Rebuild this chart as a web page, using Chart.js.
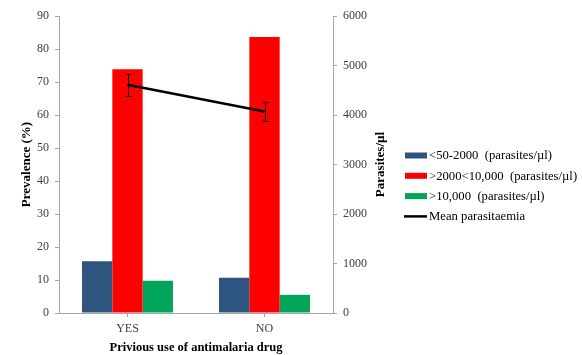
<!DOCTYPE html>
<html>
<head>
<meta charset="utf-8">
<script src="https://cdn.jsdelivr.net/npm/chart.js@4/dist/chart.umd.min.js"></script>
<style>
  html, body { margin: 0; padding: 0; background: #fff; }
  #wrap { position: relative; width: 582px; height: 355px; }
</style>
</head>
<body>
<div id="wrap"><canvas id="c"></canvas></div>
<script>
// ---- data ----
const categories = ['YES', 'NO'];
const seriesLabels = ['<50-2000  (parasites/\u00b5l)', '>2000<10,000  (parasites/\u00b5l)', '>10,000  (parasites/\u00b5l)', 'Mean parasitaemia'];
const lowDensity = [15.7, 10.7];      // prevalence %
const midDensity = [73.9, 83.6];      // prevalence %
const highDensity = [9.8, 5.5];       // prevalence %
const meanParasitaemia = [4610, 4070]; // parasites/µl
const meanError = [220, 200];          // parasites/µl
const leftTicks = { min: 0, max: 90, step: 10 };
const rightTicks = { min: 0, max: 6000, step: 1000 };
const xTitle = 'Privious use of antimalaria drug';
const yTitle = 'Prevalence (%)';
const y1Title = 'Parasites/\u00b5l';

const SERIF = "'Liberation Serif', 'Times New Roman', serif";
Chart.defaults.font.family = SERIF;
Chart.defaults.color = '#000';
const AXIS = '#a6a6a6';
const TICKC = '#404040';

const errorBars = {
  id: 'errorBars',
  afterDatasetsDraw(chart) {
    const meta = chart.getDatasetMeta(3);
    const ys = chart.scales.y1;
    const ctx = chart.ctx;
    ctx.save();
    ctx.strokeStyle = '#000';
    ctx.lineWidth = 1;
    meta.data.forEach((pt, i) => {
      const x = Math.round(pt.x) + 0.5;
      const t = ys.getPixelForValue(meanParasitaemia[i] + meanError[i]);
      const b = ys.getPixelForValue(meanParasitaemia[i] - meanError[i]);
      ctx.beginPath();
      ctx.moveTo(x, t); ctx.lineTo(x, b);
      ctx.moveTo(x - 3, Math.round(t) + 0.5); ctx.lineTo(x + 3, Math.round(t) + 0.5);
      ctx.moveTo(x - 3, Math.round(b) + 0.5); ctx.lineTo(x + 3, Math.round(b) + 0.5);
      ctx.stroke();
    });
    ctx.restore();
  }
};

const rightTitle = {
  id: 'rightTitle',
  afterDraw(chart) {
    const ctx = chart.ctx;
    const a = chart.chartArea;
    ctx.save();
    ctx.translate(a.right + 48, (a.top + a.bottom) / 2);
    ctx.rotate(-Math.PI / 2);
    ctx.font = 'bold 13px ' + SERIF;
    ctx.fillStyle = '#000';
    ctx.textAlign = 'center';
    ctx.textBaseline = 'middle';
    ctx.fillText(y1Title, 0, 0);
    ctx.restore();
  }
};

// legend drawn beside the chart, from the datasets themselves
const sideLegend = {
  id: 'sideLegend',
  afterDraw(chart) {
    const ctx = chart.ctx;
    const a = chart.chartArea;
    const x0 = a.right + 72;
    const y0 = a.top + 139.5;
    const gap = 20.3;
    ctx.save();
    ctx.font = '12.7px ' + SERIF;
    ctx.textAlign = 'left';
    ctx.textBaseline = 'middle';
    chart.data.datasets.forEach((ds, i) => {
      const y = y0 + i * gap;
      if (ds.type === 'line') {
        ctx.strokeStyle = ds.borderColor;
        ctx.lineWidth = ds.borderWidth;
        ctx.beginPath();
        ctx.moveTo(x0 - 1, y); ctx.lineTo(x0 + 22, y);
        ctx.stroke();
      } else {
        ctx.fillStyle = ds.backgroundColor;
        ctx.fillRect(x0, y - 3, 22, 6);
      }
      ctx.fillStyle = '#000';
      ctx.fillText(ds.label, x0 + 24, y + 0.5);
    });
    ctx.restore();
  }
};

new Chart(document.getElementById('c'), {
  data: {
    labels: categories,
    datasets: [
      { type: 'bar', label: seriesLabels[0], data: lowDensity, backgroundColor: '#2e5580', borderWidth: 0, yAxisID: 'y', order: 1 },
      { type: 'bar', label: seriesLabels[1], data: midDensity, backgroundColor: '#ff0000', borderWidth: 0, yAxisID: 'y', order: 1 },
      { type: 'bar', label: seriesLabels[2], data: highDensity, backgroundColor: '#00a55a', borderWidth: 0, yAxisID: 'y', order: 1 },
      { type: 'line', label: seriesLabels[3], data: meanParasitaemia, borderColor: '#000', backgroundColor: '#000', borderWidth: 2.5, pointRadius: 0, yAxisID: 'y1', order: 0 }
    ]
  },
  options: {
    responsive: true,
    maintainAspectRatio: false,
    animation: false,
    layout: { padding: { top: 16, left: 0, right: 0, bottom: 0 } },
    datasets: { bar: { categoryPercentage: 0.664, barPercentage: 1 } },
    plugins: {
      tooltip: { enabled: false },
      legend: { display: false }
    },
    scales: {
      x: {
        offset: true,
        grid: { display: true, drawOnChartArea: false, drawTicks: true, tickLength: 4, offset: false, color: AXIS },
        border: { color: AXIS, width: 1 },
        ticks: { color: TICKC, font: { size: 12 }, padding: 5 },
        title: { display: true, text: xTitle, color: '#000', font: { size: 12.5, weight: 'bold' }, padding: { top: 0, bottom: 0 } },
        afterFit: s => { s.height = 42; }
      },
      y: {
        position: 'left',
        min: leftTicks.min, max: leftTicks.max,
        ticks: { stepSize: leftTicks.step, color: TICKC, font: { size: 12 }, padding: 6 },
        grid: { drawOnChartArea: false, drawTicks: true, tickLength: 4, color: AXIS },
        border: { color: AXIS, width: 1 },
        title: { display: true, text: yTitle, color: '#000', font: { size: 13, weight: 'bold' }, padding: { top: 19, bottom: 0 } },
        afterFit: s => { s.width = 59; }
      },
      y1: {
        position: 'right',
        min: rightTicks.min, max: rightTicks.max,
        ticks: { stepSize: rightTicks.step, color: TICKC, font: { size: 12 }, padding: 6, callback: v => String(v) },
        grid: { drawOnChartArea: false, drawTicks: true, tickLength: 4, color: AXIS },
        border: { color: AXIS, width: 1 },
        afterFit: s => { s.width = 582 - 333; }
      }
    }
  },
  plugins: [errorBars, rightTitle, sideLegend]
});
</script>
</body>
</html>
